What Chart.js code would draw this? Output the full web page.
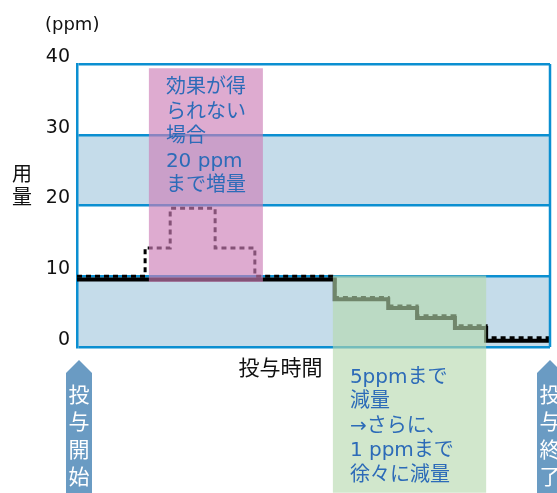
<!DOCTYPE html>
<html><head><meta charset="utf-8">
<script src="https://cdn.jsdelivr.net/npm/chart.js@4"></script>
<style>html,body{margin:0;padding:0;background:#fff}canvas{display:block}</style>
</head><body>
<canvas id="c" width="557" height="493"></canvas>
<script>
// dose levels (ppm) against treatment time (0..100)
const yTicks = [0, 10, 20, 30, 40];
const blueBands = [[0, 10], [20, 30]];
const plannedX = [0, 14.4, 19.7, 29.2, 37.6, 54.5, 65.8, 71.9, 79.9, 86.5, 100];
const planned  = [10, 14, 19.6, 14, 10, 7.0, 5.8, 4.4, 3.0, 1.3, 1.3];
const actualX  = [0, 54.5, 65.8, 71.9, 79.9, 86.5, 100];
const actual   = [9.55, 6.75, 5.5, 4.1, 2.7, 0.9, 0.9];
const increaseBox = [15.2, 39.3, 9.2, 39.4];   // x0, x1, yLow, yHigh
const decreaseBox = [54.1, 86.5, -20.6, 10.1];
const increaseText = ["効果が得", "られない", "場合", "20 ppm", "まで増量"];
const decreaseText = ["5ppmまで", "減量", "→さらに、", "1 ppmまで", "徐々に減量"];
const startLabel = ["投", "与", "開", "始"];
const endLabel = ["投", "与", "終", "了"];
const xTitle = "投与時間";
const yTitle = ["用", "量"];
const unitLabel = "(ppm)";

const BLUE = "#0b8fd1";
const FONT = '"DejaVu Sans", "Noto Sans CJK JP", sans-serif';
const JFONT = '"Noto Sans CJK JP", sans-serif';

function box(ctx, x, y, b, color){
  const l = x.getPixelForValue(b[0]), r = x.getPixelForValue(b[1]);
  const t = y.getPixelForValue(b[3]), btm = y.getPixelForValue(b[2]);
  ctx.fillStyle = color;
  ctx.fillRect(l, t, r - l, btm - t);
  return {l, t};
}

function arrow(ctx, cx, label){
  ctx.fillStyle = "#6a9bc3";
  ctx.beginPath();
  ctx.moveTo(cx, 360); ctx.lineTo(cx + 13, 373); ctx.lineTo(cx + 13, 493);
  ctx.lineTo(cx - 13, 493); ctx.lineTo(cx - 13, 373); ctx.closePath(); ctx.fill();
  ctx.fillStyle = "#fff";
  ctx.font = "21px " + JFONT;
  ctx.textAlign = "center"; ctx.textBaseline = "middle";
  label.forEach((ch, i) => ctx.fillText(ch, cx, 394 + i * 27.5));
}

const decor = {
  id: "decor",
  beforeDraw(chart){
    const {ctx, chartArea: a, scales: {y}} = chart;
    ctx.save();
    ctx.fillStyle = "#c5dcea";
    blueBands.forEach(([lo, hi]) => {
      const t = y.getPixelForValue(hi), b = y.getPixelForValue(lo);
      ctx.fillRect(a.left, t, a.right - a.left, b - t);
    });
    ctx.restore();
  },
  afterDatasetsDraw(chart){
    const {ctx, chartArea: a, scales: {x, y}} = chart;
    ctx.save();
    // right border
    ctx.strokeStyle = BLUE; ctx.lineWidth = 2.5;
    ctx.beginPath(); ctx.moveTo(a.right, a.top); ctx.lineTo(a.right, a.bottom); ctx.stroke();

    const p = box(ctx, x, y, increaseBox, "rgba(204,126,183,0.65)");
    const g = box(ctx, x, y, decreaseBox, "rgba(180,217,172,0.62)");
    ctx.fillStyle = "#2c6bb8";
    ctx.font = "20px " + FONT;
    ctx.textAlign = "left"; ctx.textBaseline = "middle";
    increaseText.forEach((s, i) => ctx.fillText(s, p.l + 17, p.t + 20 + i * 24.5));
    decreaseText.forEach((s, i) => ctx.fillText(s, g.l + 17, g.t + 102 + i * 24.5));

    arrow(ctx, x.getPixelForValue(0) + 2, startLabel);
    arrow(ctx, x.getPixelForValue(100), endLabel);

    ctx.fillStyle = "#111";
    ctx.font = "21px " + JFONT;
    ctx.textAlign = "center";
    ctx.fillText(xTitle, x.getPixelForValue(43), a.bottom + 20);
    ctx.font = "20px " + JFONT;
    yTitle.forEach((ch, i) => ctx.fillText(ch, 22, 173 + i * 23));
    ctx.font = "18px " + FONT;
    ctx.textAlign = "left";
    ctx.fillText(unitLabel, 45, 25);
    ctx.restore();
  }
};

new Chart(document.getElementById("c"), {
  type: "line",
  data: {
    datasets: [
      {
        data: actualX.map((v, i) => ({x: v, y: actual[i]})),
        borderColor: "#000", borderWidth: 4, stepped: true,
        pointRadius: 0, fill: false
      },
      {
        data: plannedX.map((v, i) => ({x: v, y: planned[i]})),
        borderColor: "#000", borderWidth: 3, borderDash: [5, 4], stepped: true,
        pointRadius: 0, fill: false
      }
    ]
  },
  options: {
    responsive: false,
    animation: false,
    layout: { padding: { top: 64, bottom: 146, left: 0, right: 7 } },
    plugins: { legend: { display: false }, tooltip: { enabled: false } },
    scales: {
      x: { type: "linear", min: 0, max: 100, display: false },
      y: {
        min: 0, max: 40,
        afterFit: s => { s.width = 77; },
        afterBuildTicks: s => { s.ticks = yTicks.map(v => ({value: v})); },
        grid: { color: BLUE, lineWidth: 2.5, drawTicks: false },
        border: { color: BLUE, width: 2.5 },
        ticks: { padding: 7, labelOffset: -7, color: "#111", font: { family: FONT, size: 19 } }
      }
    }
  },
  plugins: [decor]
});
</script>
</body></html>
